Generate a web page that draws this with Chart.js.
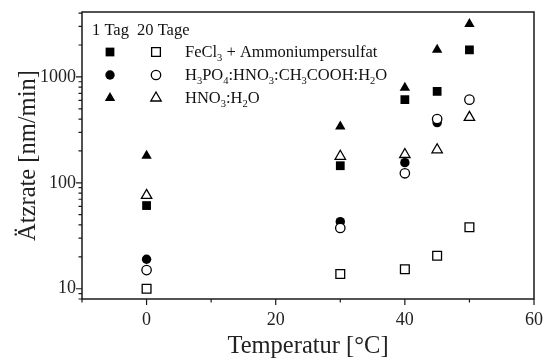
<!DOCTYPE html>
<html>
<head>
<meta charset="utf-8">
<script src="https://cdn.jsdelivr.net/npm/chart.js@4/dist/chart.umd.min.js"></script>
<style>
	html, body { margin:0; padding:0; background:#fff; }
</style>
</head>
<body>
<canvas id="c" width="544" height="361"></canvas>
<script>
// data ====================================================================================

const temps = [0, 30, 40, 45, 50]

const fecl1Tag = [61, 145, 610, 730, 1800]
const fecl20Tage = [10, 13.8, 15.3, 20.5, 38]
const h3po41Tag = [19, 43, 155, 370, null]
const h3po420Tage = [15, 37.5, 123, 400, 610]
const hno31Tag = [180, 340, 790, 1800, 3150]
const hno320Tage = [76, 178, 185, 205, 415]

const xTicks = [0, 20, 40, 60]
const yTicks = [10, 100, 1000]

const legendHead = ['1 Tag', '20 Tage']
const legendRows = ['FeCl_3 + Ammoniumpersulfat', 'H_3PO_4:HNO_3:CH_3COOH:H_2O', 'HNO_3:H_2O']

const serif = '"Liberation Serif", "Times New Roman", serif'

// styles ==================================================================================

const marks = [
	{ style: 'rect', r: 6.2 },
	{ style: 'circle', r: 4.7 },
	{ style: 'triangle', r: 6 },
]

const ds = (label, data, mark, filled) => ({
	label,
	data: temps.map((t, i) => ({ x: t, y: data[i] })),
	pointStyle: mark.style,
	pointRadius: mark.r,
	pointHoverRadius: mark.r,
	backgroundColor: filled ? '#000' : '#fff',
	borderColor: '#000',
	borderWidth: filled ? 0 : 1.3,
	showLine: false,
	order: filled ? 1 : 0,
})

const subText = (g, s, x, y) => {
	s.split(/(_\d)/).forEach(p => {
		if (!p) return
		if (p[0] == '_') {
			g.font = '10.5px ' + serif
			g.fillText(p[1], x, y + 4)
			x += g.measureText(p[1]).width
		} else {
			g.font = '16.5px ' + serif
			g.fillText(p, x, y)
			x += g.measureText(p).width
		}
	})
}

const frame = {
	id: 'frame',
	afterDraw: c => {
		const g = c.ctx, a = c.chartArea, sx = c.scales.x, sy = c.scales.y
		g.save()
		g.strokeStyle = '#1a1a1a'
		g.lineWidth = 1.5
		g.strokeRect(a.left, a.top, a.right - a.left, a.bottom - a.top)
		
		g.lineWidth = 1.2
		g.beginPath()
		sx.ticks.forEach(t => {
			const p = sx.getPixelForValue(t.value), l = xTicks.includes(t.value) ? 6 : 3.5
			g.moveTo(p, a.bottom)
			g.lineTo(p, a.bottom + l)
		})
		sy.ticks.forEach(t => {
			const e = Math.floor(Math.log10(t.value) + 1e-9), s = t.value / Math.pow(10, e)
			if (Math.abs(s - Math.round(s)) > 1e-6) return
			const p = sy.getPixelForValue(t.value), l = Math.round(s) == 1 ? 6 : 3.5
			g.moveTo(a.left, p)
			g.lineTo(a.left - l, p)
		})
		g.stroke()
		
		// legend
		g.fillStyle = '#111'
		g.textBaseline = 'alphabetic'
		g.font = '16.5px ' + serif
		g.fillText(legendHead[0], 92, 35)
		g.fillText(legendHead[1], 137, 35)
		legendRows.forEach((txt, i) => {
			const y = 52 + i * 23
			const m = marks[i]
			g.fillStyle = '#000'
			g.strokeStyle = '#000'
			Chart.helpers.drawPoint(g, { pointStyle: m.style, radius: m.r, rotation: 0, borderWidth: 0 }, 110, y)
			g.fillStyle = '#fff'
			g.lineWidth = 1.3
			Chart.helpers.drawPoint(g, { pointStyle: m.style, radius: m.r, rotation: 0, borderWidth: 1.3 }, 156, y)
			g.fillStyle = '#111'
			subText(g, txt, 185, y + 4.5)
		})
		g.restore()
	}
}

// chart ===================================================================================

new Chart(document.getElementById('c'), {
	type: 'scatter',
	data: {
		datasets: [
			ds('FeCl3 1 Tag', fecl1Tag, marks[0], true),
			ds('FeCl3 20 Tage', fecl20Tage, marks[0], false),
			ds('H3PO4 1 Tag', h3po41Tag, marks[1], true),
			ds('H3PO4 20 Tage', h3po420Tage, marks[1], false),
			ds('HNO3 1 Tag', hno31Tag, marks[2], true),
			ds('HNO3 20 Tage', hno320Tage, marks[2], false),
		]
	},
	options: {
		responsive: false,
		animation: false,
		layout: { padding: { left: 10, top: 12, right: 10, bottom: 0 } },
		plugins: {
			legend: { display: false },
			tooltip: { enabled: false },
		},
		scales: {
			x: {
				type: 'linear',
				min: -10,
				max: 60,
				afterFit: s => { s.height = 62; s.paddingLeft = 0; s.paddingRight = 0 },
				grid: { display: true, drawOnChartArea: false, drawTicks: false },
				border: { display: false },
				ticks: {
					stepSize: 10,
					padding: 10,
					autoSkip: false,
					maxRotation: 0,
					color: '#222',
					font: { family: serif, size: 18 },
					callback: v => xTicks.includes(v) ? v : '',
				},
				title: { display: true, text: 'Temperatur [°C]', color: '#222', font: { family: serif, size: 24.5 }, padding: { top: 2, bottom: 0 } },
			},
			y: {
				type: 'logarithmic',
				min: 8,
				max: 4100,
				afterFit: s => { s.width = 72; s.paddingTop = 0; s.paddingBottom = 0 },
				grid: { display: true, drawOnChartArea: false, drawTicks: false },
				border: { display: false },
				ticks: {
					padding: 6,
					autoSkip: false,
					color: '#222',
					font: { family: serif, size: 18 },
					callback: v => yTicks.some(t => Math.abs(t - v) < 1e-6) ? String(v) : '',
				},
				title: { display: true, text: 'Ätzrate [nm/min]', color: '#222', font: { family: serif, size: 24.5 }, padding: { top: 4, bottom: 4 } },
			},
		},
	},
	plugins: [frame],
})
</script>
</body>
</html>
